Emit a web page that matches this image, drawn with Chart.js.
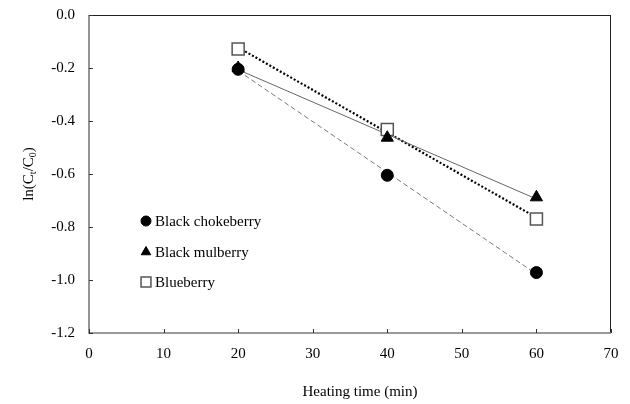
<!DOCTYPE html>
<html>
<head>
<meta charset="utf-8">
<style>
    body { margin: 0; background: #fff; }
    #wrap { width: 630px; height: 404px; }
</style>
</head>
<body>
<div id='wrap'><canvas id='myChart'></canvas></div>
<script src='https://cdn.jsdelivr.net/npm/chart.js'></script>
<script>
    // heating times (min) and ln(Ct/C0)
    const times = [20, 40, 60];
    const chokeberry = [-0.205, -0.605, -0.972];
    const mulberry = [-0.200, -0.463, -0.688];
    const blueberry = [-0.128, -0.432, -0.770];
    const seriesNames = ['Black chokeberry', 'Black mulberry', 'Blueberry'];
    const xTicks = [0, 10, 20, 30, 40, 50, 60, 70];
    const yTicks = [0.0, -0.2, -0.4, -0.6, -0.8, -1.0, -1.2];

    const FONT = "'Liberation Serif', 'Times New Roman', serif";

    function pts(ys) {
        return times.map(function (t, i) { return {x: t, y: ys[i]}; });
    }

    // least squares line over the measured points, drawn from first to last time
    function fit(ys) {
        let n = times.length;
        let mx = times.reduce((a, b) => a + b, 0) / n;
        let my = ys.reduce((a, b) => a + b, 0) / n;
        let sxy = 0, sxx = 0;
        for (let i = 0; i < n; i++) {
            sxy += (times[i] - mx) * (ys[i] - my);
            sxx += (times[i] - mx) * (times[i] - mx);
        }
        let k = sxy / sxx;
        let x0 = times[0], x1 = times[n - 1];
        return [{x: x0, y: my + k * (x0 - mx)}, {x: x1, y: my + k * (x1 - mx)}];
    }

    const markers = [
        {pointStyle: 'circle', radius: 6, bg: '#000', border: '#000', bw: 1, lr: 5},
        {pointStyle: 'triangle', radius: 7, bg: '#000', border: '#000', bw: 1, lr: 5.5},
        {pointStyle: 'rect', radius: 8.5, bg: '#fff', border: '#555', bw: 1.5, lr: 7},
    ];

    const framePlugin = {
        id: 'frame',
        afterDraw: function (chart) {
            const ctx = chart.ctx;
            const a = chart.chartArea;
            const xs = chart.scales.x, ys = chart.scales.y;
            ctx.save();
            // frame
            ctx.lineWidth = 1;
            ctx.strokeStyle = '#222';
            ctx.beginPath();
            ctx.moveTo(a.left, a.top + 0.5); ctx.lineTo(a.right, a.top + 0.5);
            ctx.moveTo(a.right - 0.5, a.top); ctx.lineTo(a.right - 0.5, a.bottom);
            ctx.stroke();
            ctx.lineWidth = 1.6;
            ctx.strokeStyle = '#7a7a7a';
            ctx.beginPath();
            ctx.moveTo(a.left, a.top); ctx.lineTo(a.left, a.bottom);
            ctx.lineTo(a.right, a.bottom);
            ctx.stroke();
            // inside tick marks
            ctx.lineWidth = 1;
            ctx.strokeStyle = '#333';
            ctx.beginPath();
            for (let v of yTicks) {
                let py = Math.round(ys.getPixelForValue(v)) + 0.5;
                ctx.moveTo(a.left, py); ctx.lineTo(a.left + 4, py);
            }
            for (let v of xTicks) {
                let px = Math.round(xs.getPixelForValue(v)) + 0.5;
                ctx.moveTo(px, a.bottom); ctx.lineTo(px, a.bottom - 4);
            }
            ctx.stroke();

            // legend
            ctx.font = '15px ' + FONT;
            ctx.textBaseline = 'middle';
            ctx.textAlign = 'left';
            const rows = [221, 252, 282];
            for (let i = 0; i < 3; i++) {
                const m = markers[i];
                ctx.fillStyle = m.bg;
                ctx.strokeStyle = m.border;
                ctx.lineWidth = m.bw;
                Chart.helpers.drawPoint(ctx, {pointStyle: m.pointStyle, radius: m.lr, rotation: 0, borderWidth: m.bw}, 146, rows[i]);
                ctx.fillStyle = '#000';
                ctx.fillText(seriesNames[i], 155, rows[i] + 1);
            }

            // axis titles
            ctx.textAlign = 'center';
            ctx.fillText('Heating time (min)', 360, 392);

            ctx.translate(33, 174);
            ctx.rotate(-Math.PI / 2);
            ctx.textBaseline = 'alphabetic';
            const parts = [['ln(C', 0], ['t', 1], ['/C', 0], ['0', 1], [')', 0]];
            let w = 0;
            for (let p of parts) {
                ctx.font = (p[1] ? '10px ' : '15px ') + FONT;
                w += ctx.measureText(p[0]).width;
            }
            let x = -w / 2;
            ctx.textAlign = 'left';
            for (let p of parts) {
                ctx.font = (p[1] ? '10px ' : '15px ') + FONT;
                ctx.fillText(p[0], x, p[1] ? 3 : 0);
                x += ctx.measureText(p[0]).width;
            }
            ctx.restore();
        }
    };

    function pointSet(label, ys, m) {
        return {
            label: label,
            data: pts(ys),
            showLine: false,
            pointStyle: m.pointStyle,
            pointRadius: m.radius,
            pointBackgroundColor: m.bg,
            pointBorderColor: m.border,
            pointBorderWidth: m.bw,
        };
    }

    function lineSet(ys, color, width, dash) {
        return {
            data: fit(ys),
            showLine: true,
            pointRadius: 0,
            borderColor: color,
            borderWidth: width,
            borderDash: dash,
            borderCapStyle: 'butt',
        };
    }

    const data = {
        datasets: [
            pointSet(seriesNames[0], chokeberry, markers[0]),
            pointSet(seriesNames[1], mulberry, markers[1]),
            pointSet(seriesNames[2], blueberry, markers[2]),
            lineSet(chokeberry, '#555', 0.8, [5, 3]),
            lineSet(mulberry, '#666', 1, []),
            lineSet(blueberry, '#000', 2.2, [2, 2]),
        ],
    };

    const config = {
        type: 'scatter',
        data: data,
        options: {
            responsive: true,
            maintainAspectRatio: false,
            animation: false,
            layout: {padding: {top: 15, right: 19, left: 0, bottom: 0}},
            plugins: {legend: {display: false}, tooltip: {enabled: false}},
            scales: {
                x: {
                    type: 'linear',
                    min: 0, max: 70,
                    grid: {display: false},
                    border: {display: false},
                    afterFit: function (s) {
                        s.height = 71;
                        s.paddingLeft = 0; s.paddingRight = 0;
                    },
                    ticks: {
                        stepSize: 10,
                        padding: 4,
                        color: '#000',
                        font: {family: FONT, size: 15},
                    },
                },
                y: {
                    type: 'linear',
                    min: -1.2, max: 0,
                    grid: {display: false},
                    border: {display: false},
                    afterFit: function (s) {
                        s.width = 89;
                        s.paddingTop = 0; s.paddingBottom = 0;
                    },
                    ticks: {
                        stepSize: 0.2,
                        padding: 6,
                        color: '#000',
                        font: {family: FONT, size: 15},
                        callback: function (v) { return Math.abs(v) < 1e-9 ? '0.0' : v.toFixed(1); },
                    },
                },
            },
        },
        plugins: [framePlugin],
    };

    new Chart(document.getElementById('myChart'), config);
</script>
</body>
</html>
